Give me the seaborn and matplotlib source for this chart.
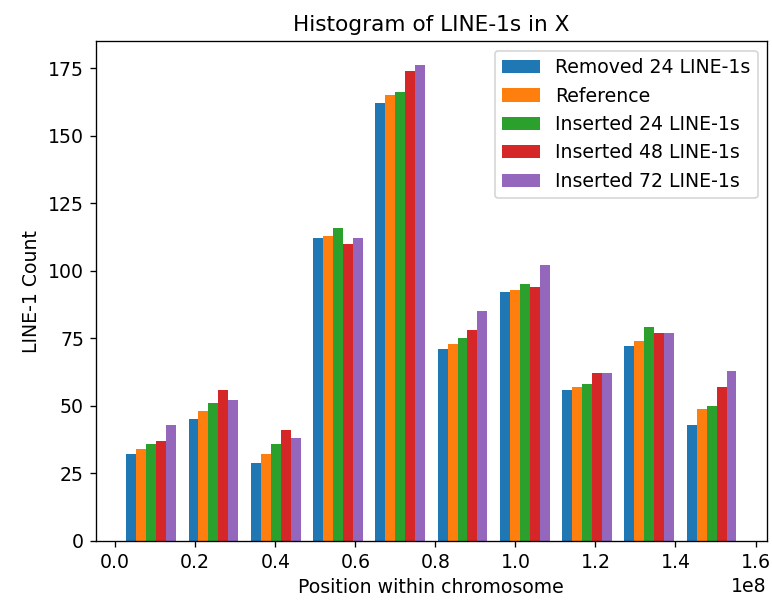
import numpy as np
import pandas as pd
import seaborn as sns
import matplotlib.pyplot as plt

# bin range on chromosome X (bp)
bin_start = 1.2e6
bin_end = 1.568e8
n_bins = 10

series = ["Removed 24 LINE-1s", "Reference", "Inserted 24 LINE-1s",
          "Inserted 48 LINE-1s", "Inserted 72 LINE-1s"]

removed_24 = [32, 45, 29, 112, 162, 71, 92, 56, 72, 43]
reference = [34, 48, 32, 113, 165, 73, 93, 57, 74, 49]
inserted_24 = [36, 51, 36, 116, 166, 75, 95, 58, 79, 50]
inserted_48 = [37, 56, 41, 110, 174, 78, 94, 62, 77, 57]
inserted_72 = [43, 52, 38, 112, 176, 85, 102, 62, 77, 63]

colors = ["#1f77b4", "#ff7f0e", "#2ca02c", "#d62728", "#9467bd"]

edges = np.linspace(bin_start, bin_end, n_bins + 1)
centers = (edges[:-1] + edges[1:]) / 2

counts = [removed_24, reference, inserted_24, inserted_48, inserted_72]
rows = []
for name, vals in zip(series, counts):
    for c, v in zip(centers, vals):
        rows.append({"pos": c, "count": v, "series": name})
df = pd.DataFrame(rows)

plt.rcParams["font.size"] = 11.3

fig = plt.figure(figsize=(772 / 120, 605 / 120), dpi=120)
ax = fig.add_axes([0.124, 0.106, 0.8695, 0.826])

sns.barplot(data=df, x="pos", y="count", hue="series", hue_order=series,
            palette=colors, saturation=1, native_scale=True, width=0.8,
            errorbar=None, linewidth=0, ax=ax)

ax.margins(x=0.05)
ax.set_ylim(0, 185)
ax.set_yticks([0, 25, 50, 75, 100, 125, 150, 175])
ax.set_xticks(np.arange(0, 1.61e8, 0.2e8))
ax.ticklabel_format(axis="x", style="sci", scilimits=(0, 0))
ax.set_title("Histogram of LINE-1s in X", fontsize=13)
ax.set_xlabel("Position within chromosome")
ax.set_ylabel("LINE-1 Count")

handles, labels = ax.get_legend_handles_labels()
ax.legend(handles, labels, loc="upper right")

fig.savefig("out.png", dpi=120)
